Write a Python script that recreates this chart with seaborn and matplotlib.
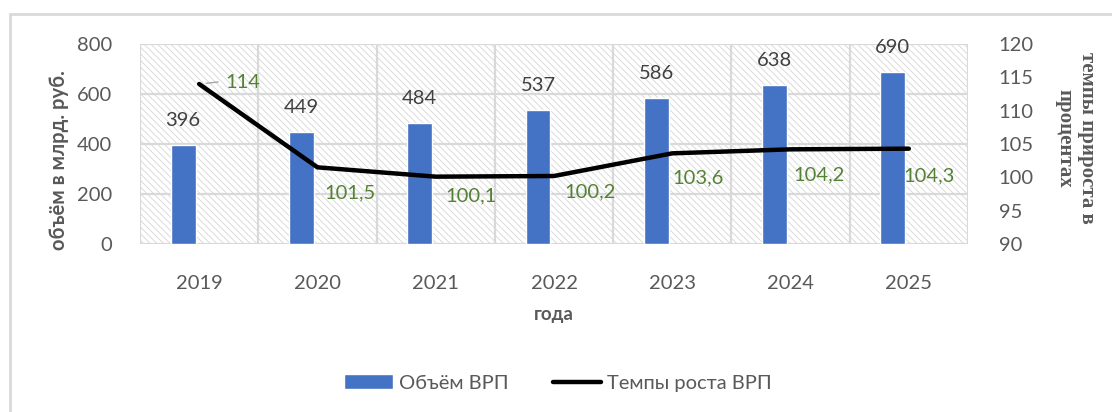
import numpy as np
import pandas as pd
import matplotlib
matplotlib.use("Agg")
import matplotlib.pyplot as plt
import matplotlib.transforms as mtransforms
from matplotlib.patches import Rectangle
from matplotlib.lines import Line2D
import seaborn as sns

years = ["2019", "2020", "2021", "2022", "2023", "2024", "2025"]
volume = [396, 449, 484, 537, 586, 638, 690]
growth = [114, 101.5, 100.1, 100.2, 103.6, 104.2, 104.3]
growth_labels = ["114", "101,5", "100,1", "100,2", "103,6", "104,2", "104,3"]
right_title = ["темпы прироста в", "процентах"]

# label offsets in pixels (dx, dy) relative to the line vertex (annotation layout only)
g_offsets = [(26, 1), (7, -26), (10, -19), (10, -16), (0, -25), (3, -26), (-5, -27)]

sns.set_theme(style="white")
plt.rcParams['font.family'] = ['Lato', 'DejaVu Sans']
plt.rcParams['hatch.linewidth'] = 0.6

GRAY = "#595959"
GRID = "#d9d9d9"
BLUE = "#4472C4"
GREEN = "#548235"
FS = 14.5

fig = plt.figure(figsize=(11.12, 4.12), dpi=100)
ax = fig.add_axes([140/1112, 1-244/412, 828/1112, 200/412])

df = pd.DataFrame({"year": years, "volume": volume, "growth": growth})

# hatched plot-area background
ax.add_patch(Rectangle((0, 0), 1, 1, transform=ax.transAxes, facecolor="white",
                       edgecolor="#d6d6d6", hatch="\\\\\\\\\\", linewidth=0, zorder=0.1))

sns.barplot(data=df, x="year", y="volume", color=BLUE, width=0.21, saturation=1,
            ax=ax, zorder=2)
# bars sit slightly left of the category centre (clustered-bar layout)
bar_shift = mtransforms.ScaledTranslation(-16/100, 0, fig.dpi_scale_trans)
for p in ax.patches[1:]:
    p.set_transform(ax.transData + bar_shift)
if ax.get_legend() is not None:
    ax.get_legend().remove()
ax.set_xlim(-0.5, len(years)-0.5)
ax.set_ylim(0, 800)
ax.set_yticks([0, 200, 400, 600, 800])

ax.set_axisbelow(True)
ax.yaxis.grid(True, color=GRID, linewidth=1.6, zorder=0.5)
ax.set_xticks(np.arange(-0.5, len(years), 1.0), minor=True)
ax.xaxis.grid(True, which="minor", color=GRID, linewidth=1.6)
ax.xaxis.grid(False, which="major")
ax.tick_params(axis="x", which="minor", length=7, color=GRID, width=1.6, direction="out")
ax.tick_params(axis="x", which="major", length=0, pad=22, labelsize=FS, labelcolor=GRAY)
ax.tick_params(axis="y", length=0, pad=20, labelsize=FS, labelcolor=GRAY)
for s in ax.spines.values():
    s.set_visible(False)

for i, v in enumerate(volume):
    ax.annotate(str(v), (i, v), xycoords=ax.transData + bar_shift,
                xytext=(0, 24*0.72), textcoords="offset points",
                ha="center", va="center", fontsize=FS, color="#404040", zorder=5)

ax.set_xlabel("года", fontsize=13.5, fontweight="bold", color=GRAY)
ax.xaxis.set_label_coords(0.5, (244-315)/200)
ax.xaxis.label.set_va("center")
ax.set_ylabel("объём в млрд. руб.", fontsize=14.5, fontweight="bold", color=GRAY)
ax.yaxis.set_label_coords((59-140)/828, (244-160)/200)
ax.yaxis.label.set_va("center")

ax2 = ax.twinx()
sns.lineplot(x=np.arange(len(years)), y=growth, color="black", linewidth=3.2, ax=ax2,
             legend=False)
line = ax2.lines[0]
line.set_solid_capstyle("round")
ax2.set_ylim(90, 120)
ax2.set_yticks([90, 95, 100, 105, 110, 115, 120])
ax2.tick_params(axis="y", length=0, pad=22, labelsize=FS, labelcolor=GRAY)
for s in ax2.spines.values():
    s.set_visible(False)
ax2.set_ylabel("")
ax2.grid(False)

for i, (g, lab) in enumerate(zip(growth, growth_labels)):
    dx, dy = g_offsets[i]
    ax2.annotate(lab, (i, g), xytext=(dx*0.72, dy*0.72), textcoords="offset points",
                 ha="left", va="center", fontsize=FS, color=GREEN, zorder=6)
# leader line for the first label
ax2.annotate("", (0, growth[0]), xytext=(19*0.72, 2*0.72), textcoords="offset points",
             arrowprops=dict(arrowstyle="-", color="#a6a6a6", lw=1,
                             shrinkA=0, shrinkB=5))

# right axis title: two rotated serif lines (first line on the right)
for txt, xpix in zip(right_title, [1087, 1064]):
    fig.text(xpix/1112, 1-138/412, txt, rotation=270,
             ha="center", va="center", fontsize=15, fontweight="bold", color=GRAY,
             family="Liberation Serif")

handles = [Rectangle((0, 0), 1, 1, facecolor=BLUE),
           Line2D([], [], color="black", linewidth=3.2, solid_capstyle="round")]
fig.legend(handles, ["Объём ВРП", "Темпы роста ВРП"], loc="center",
           bbox_to_anchor=(558/1112, 1-383/412), ncol=2, frameon=False,
           fontsize=FS, labelcolor=GRAY, handlelength=2.4, handletextpad=0.3,
           columnspacing=2.2)

# outer chart border (left and top edges visible)
fig.add_artist(Line2D([10/1112, 10/1112], [0, 1-14/412], color=GRID, linewidth=2,
                      transform=fig.transFigure))
fig.add_artist(Line2D([10/1112, 1], [1-14/412, 1-14/412], color=GRID, linewidth=2,
                      transform=fig.transFigure))

fig.savefig("out.png", dpi=100)
